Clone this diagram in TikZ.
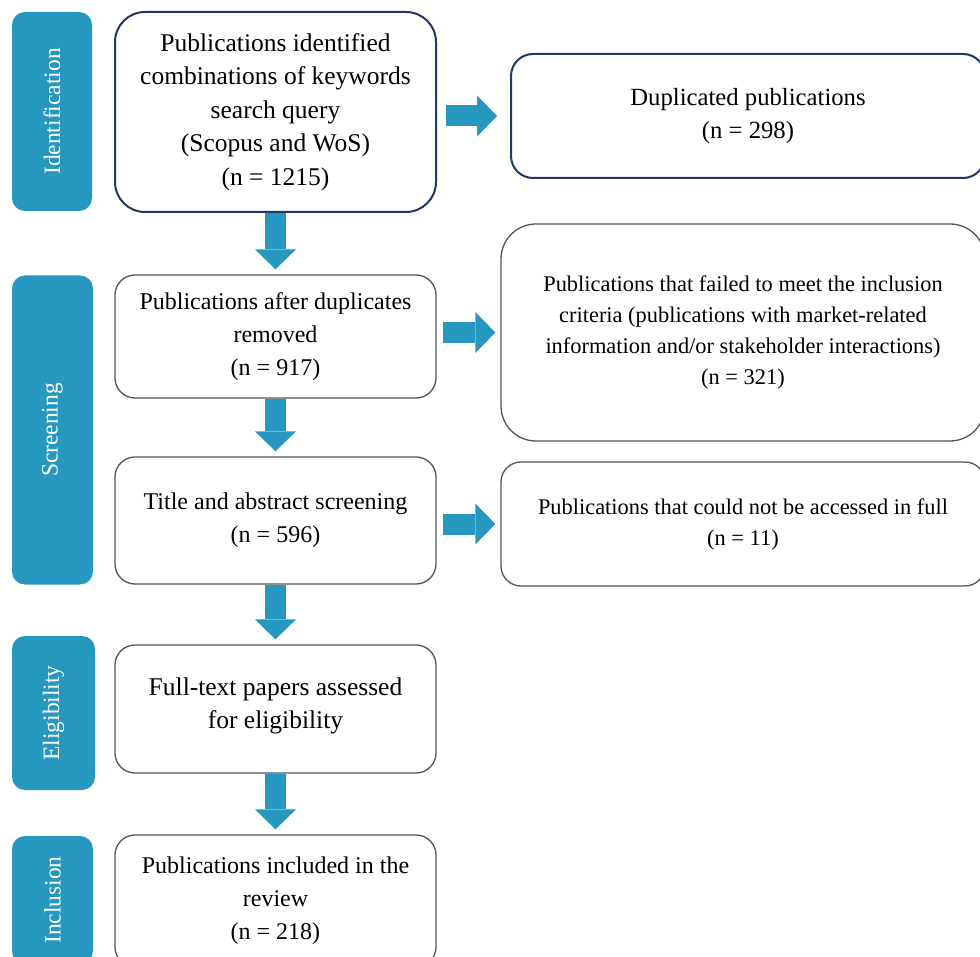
\documentclass[tikz,border=0pt]{standalone}
\usepackage{fontspec}
\setmainfont{Liberation Serif}
\usetikzlibrary{arrows.meta}
\definecolor{barblue}{RGB}{38,151,191}
\definecolor{navyline}{RGB}{31,56,100}
\definecolor{greyline}{RGB}{85,85,85}

\begin{document}
\begin{tikzpicture}[x=1pt,y=-1pt,stepbox/.style={draw=greyline,line width=1.3pt,rounded corners=20pt,fill=white,align=center,font=\fontsize{24}{33}\selectfont},keybox/.style={stepbox,draw=navyline,line width=2pt},sidebox/.style={stepbox,font=\fontsize{22.4}{31}\selectfont},phase/.style={fill=barblue,rounded corners=13pt,rotate=90,text=white,font=\fontsize{23.5}{26}\selectfont},flow/.style={draw=barblue,line width=21pt,-{Triangle[length=20pt,width=41pt,line width=0pt]},shorten >=5pt}]
	\useasboundingbox (0,0) rectangle (980,957);
	\clip (0,0) rectangle (980,957);
	\node[phase,minimum width=199pt,minimum height=80pt] (idf) at (52,111.5) {Identification};
	\node[phase,minimum width=309pt,minimum height=81pt] (scr) at (52.5,430) {Screening};
	\node[phase,minimum width=154pt,minimum height=83pt] (elg) at (53.5,713) {Eligibility};
	\node[phase,minimum width=128pt,minimum height=81pt] (inc) at (52.5,900) {Inclusion};
	\node[keybox,rounded corners=30pt,minimum width=321pt,minimum height=200pt,font=\fontsize{25.5}{33.5}\selectfont] (found) at (275.5,112) {Publications identified\\combinations of keywords\\search query\\(Scopus and WoS)\\(n = 1215)};
	\node[keybox,rounded corners=22pt,minimum width=474pt,minimum height=124pt,font=\fontsize{24.7}{33}\selectfont] (dupl) at (748,116) {Duplicated publications\\(n = 298)};
	\node[stepbox,minimum width=321pt,minimum height=123pt] (dedup) at (275.5,336.5) {Publications after duplicates\\removed\\(n = 917)};
	\node[sidebox,rounded corners=35pt,minimum width=484pt,minimum height=217pt] (failed) at (743,332.5) {Publications that failed to meet the inclusion\\criteria (publications with market-related\\information and/or stakeholder interactions)\\(n = 321)};
	\node[stepbox,minimum width=321pt,minimum height=127pt] (abstr) at (275.5,520.5) {Title and abstract screening\\(n = 596)};
	\node[sidebox,minimum width=484pt,minimum height=124pt] (noacc) at (743,524) {Publications that could not be accessed in full\\(n = 11)};
	\node[stepbox,minimum width=321pt,minimum height=128pt,font=\fontsize{25.5}{33}\selectfont] (fulltxt) at (275.5,709) {Full-text papers assessed\\for eligibility\\[-21pt]};
	\node[stepbox,minimum width=321pt,minimum height=132pt] (incl) at (275.5,901) {Publications included in the\\review\\(n = 218)};
	\draw[flow,shorten >=13pt,shorten <=9pt] (found.east |- dupl.west) -- (dupl.west);
	\draw[flow,shorten <=6pt] (failed.west -| dedup.east) -- (failed.west);
	\draw[flow,shorten <=6pt] (noacc.west -| abstr.east) -- (noacc.west);
	\draw[flow] (found.south) -- (dedup.north);
	\draw[flow] (dedup.south) -- (abstr.north);
	\draw[flow] (abstr.south) -- (fulltxt.north);
	\draw[flow] (fulltxt.south) -- (incl.north);
\end{tikzpicture}
\end{document}
